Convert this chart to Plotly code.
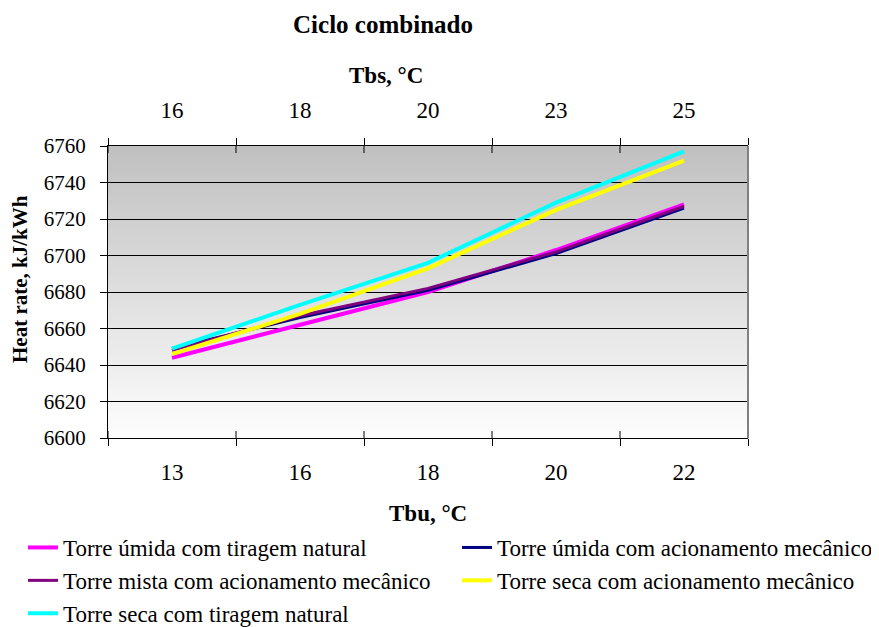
import plotly.graph_objects as go

# Tbu (bottom) and Tbs (top) categories
tbu = ["13", "16", "18", "20", "22"]
tbs = ["16", "18", "20", "23", "25"]

umida_natural = [6644, 6662, 6680, 6703, 6728]
umida_mecanico = [6649, 6666, 6681, 6701, 6726]
mista_mecanico = [6648, 6667, 6682, 6702, 6727]
seca_mecanico = [6646, 6668, 6693, 6725, 6752]
seca_natural = [6649, 6673, 6696, 6729, 6757]

names = ["Torre úmida com tiragem natural",
         "Torre úmida com acionamento mecânico",
         "Torre mista com acionamento mecânico",
         "Torre seca com acionamento mecânico",
         "Torre seca com tiragem natural"]
series = [umida_natural, umida_mecanico, mista_mecanico, seca_mecanico, seca_natural]
colors = ["#ff00ff", "#000080", "#800080", "#ffff00", "#00ffff"]
widths = [4, 3, 3, 4, 4]
legend_col = ["legend", "legend2", "legend", "legend2", "legend"]

FONT = "Liberation Serif, Times New Roman, serif"

# page has an 8px body margin, so the figure is drawn 8px smaller
W, H = 871, 619
L, T, PW, PH = 100, 138, 640, 292

fig = go.Figure()
for name, vals, c, w, lg in zip(names, series, colors, widths, legend_col):
    fig.add_trace(go.Scatter(x=tbu, y=vals, name=name, mode="lines",
                             line=dict(color=c, width=w), legend=lg))

# invisible trace so the top (Tbs) category axis gets its ticks
fig.add_trace(go.Scatter(x=tbs, y=seca_natural, xaxis="x2", mode="lines",
                         line=dict(width=0), opacity=0, hoverinfo="skip",
                         showlegend=False))

# vertical grey gradient in the plot area
shapes = []
nb = 73
for i in range(nb):
    t = i / (nb - 1)
    g = int(round(0xc0 + (0xfd - 0xc0) * t))
    shapes.append(dict(type="rect", xref="x domain", yref="y domain",
                       x0=0, x1=1, y0=1 - (i + 1) / nb, y1=1 - i / nb,
                       fillcolor=f"rgb({g},{g},{g})", line=dict(width=0),
                       layer="below"))
# inner half of the crossing category ticks
tl = 7 / PH
for i in range(len(tbu) + 1):
    for y0, y1 in [(0, tl), (1 - tl, 1)]:
        shapes.append(dict(type="line", xref="x", yref="y domain",
                           x0=i - 0.5, x1=i - 0.5, y0=y0, y1=y1,
                           line=dict(color="black", width=1)))
# right border
shapes.append(dict(type="line", xref="x domain", yref="y domain",
                   x0=1, x1=1, y0=0, y1=1, line=dict(color="#808080", width=2)))

leg_y = -(518 - (T + PH)) / PH
leg_common = dict(orientation="v", xanchor="left", y=leg_y, yanchor="top",
                  font=dict(size=23), bgcolor="rgba(0,0,0,0)",
                  traceorder="normal")

fig.update_layout(
    width=W, height=H,
    margin=dict(l=L, r=W - L - PW, t=T, b=H - T - PH, autoexpand=False),
    paper_bgcolor="white", plot_bgcolor="white",
    font=dict(family=FONT, color="black", size=22),
    title=dict(text="<b>Ciclo combinado</b>", x=375 / W, xanchor="center",
               y=1 - 16 / H, yanchor="middle", font=dict(size=25)),
    xaxis=dict(type="category", categoryarray=tbu, range=[-0.5, 4.5],
               tickson="boundaries", ticks="outside", ticklen=7,
               tickcolor="black", showline=True, linecolor="black",
               showgrid=False, zeroline=False, tickfont=dict(size=23),
               ticklabelstandoff=13),
    xaxis2=dict(type="category", categoryarray=tbs, range=[-0.5, 4.5],
                overlaying="x", side="top", anchor="y",
                tickson="boundaries", ticks="outside", ticklen=7,
                tickcolor="black", showline=True, linecolor="black",
                showgrid=False, zeroline=False, tickfont=dict(size=23),
                ticklabelstandoff=18),
    yaxis=dict(range=[6600, 6760], dtick=20, ticks="outside", ticklen=7,
               tickcolor="black", showline=True, linecolor="black",
               showgrid=True, gridcolor="black", gridwidth=1,
               zeroline=False, tickfont=dict(size=21), ticklabelstandoff=10),
    shapes=shapes,
    annotations=[
        dict(text="<b>Tbs, °C</b>", xref="paper", yref="paper",
             x=(386 - 108) / PW, y=1 + (146 - 75) / PH,
             showarrow=False, xanchor="center", yanchor="middle",
             font=dict(size=23)),
        dict(text="<b>Tbu, °C</b>", xref="paper", yref="paper",
             x=(428 - 108) / PW, y=-(513 - 438) / PH,
             showarrow=False, xanchor="center", yanchor="middle",
             font=dict(size=23)),
        dict(text="<b>Heat rate, kJ/kWh</b>", xref="paper", yref="paper",
             x=(20 - 108) / PW, y=(438 - 279) / PH, textangle=-90,
             showarrow=False, xanchor="center", yanchor="middle",
             font=dict(size=21)),
    ],
    legend=dict(x=(15 - L) / PW, **leg_common),
    legend2=dict(x=(449 - L) / PW, **leg_common),
)

fig.write_html("out.html")
